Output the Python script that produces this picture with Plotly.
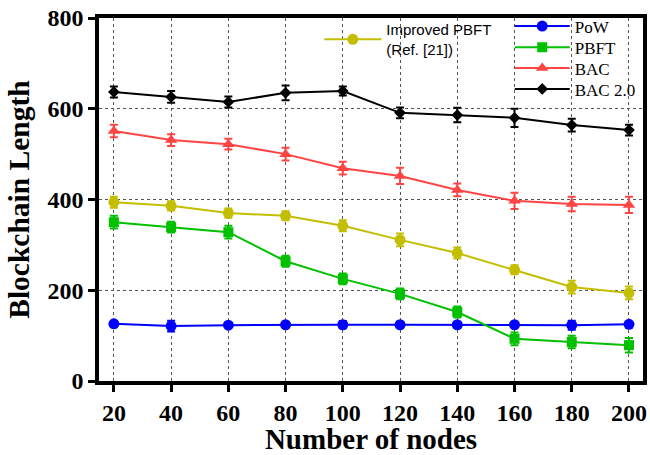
import plotly.graph_objects as go

nodes = [20, 40, 60, 80, 100, 120, 140, 160, 180, 200]

pow_vals = [126, 121, 123, 124, 124, 124, 124, 124, 123, 125]
pow_err = [4, 12, 4, 4, 8, 4, 4, 4, 10, 4]

pbft_vals = [350, 339, 328, 264, 225, 192, 152, 93, 86, 79]
pbft_err = [14, 12, 14, 12, 12, 12, 12, 14, 14, 16]

bac_vals = [551, 531, 522, 500, 469, 452, 421, 397, 390, 388]
bac_err = [14, 13, 12, 14, 14, 18, 14, 18, 16, 18]

bac2_vals = [637, 626, 615, 635, 639, 591, 586, 580, 564, 553]
bac2_err = [12, 13, 12, 16, 10, 12, 16, 20, 14, 12]

impr_vals = [394, 386, 370, 364, 342, 311, 282, 245, 207, 194]
impr_err = [12, 10, 10, 10, 12, 14, 12, 10, 14, 14]

x_ticks = [20, 40, 60, 80, 100, 120, 140, 160, 180, 200]
y_ticks = [0, 200, 400, 600, 800]

fig = go.Figure()

def add(name, y, err, color, symbol, size, legend):
    fig.add_trace(go.Scatter(
        x=nodes, y=y, name=name, mode="lines+markers",
        line=dict(color=color, width=2),
        marker=dict(color=color, symbol=symbol, size=size),
        error_y=dict(type="data", array=err, color=color, thickness=2, width=4),
        legend=legend, showlegend=True,
    ))

add("Improved PBFT<br>(Ref. [21])", impr_vals, impr_err, "#C4BE00", "circle", 11, "legend")
add("PoW", pow_vals, pow_err, "#0000FF", "circle", 11, "legend2")
add("PBFT", pbft_vals, pbft_err, "#00C000", "square", 10, "legend3")
add("BAC", bac_vals, bac_err, "#FF4444", "triangle-up", 11, "legend4")
add("BAC 2.0", bac2_vals, bac2_err, "#000000", "diamond", 9, "legend5")

serif = "Liberation Serif"

def small_legend(y):
    return dict(
        x=0.755, y=y, xanchor="left", yanchor="top",
        bgcolor="rgba(0,0,0,0)", itemwidth=55,
        font=dict(family=serif, size=17, color="black"),
        tracegroupgap=0, visible=True,
    )

fig.update_layout(
    width=650, height=455,
    margin=dict(l=99, r=7, t=18, b=74),
    plot_bgcolor="white", paper_bgcolor="white",
    font=dict(family=serif, color="black"),
    showlegend=True,
    legend=dict(
        x=0.405, y=1.013, xanchor="left", yanchor="top",
        bgcolor="rgba(0,0,0,0)", itemwidth=57,
        font=dict(family="Liberation Sans", size=15, color="black"),
        tracegroupgap=0, visible=True,
    ),
    legend2=small_legend(1.026),
    legend3=small_legend(0.968),
    legend4=small_legend(0.9105),
    legend5=small_legend(0.853),
    xaxis=dict(
        range=[14.8, 204.9], tickvals=x_ticks,
        showgrid=True, gridcolor="#555555", griddash="dot", gridwidth=1,
        showline=True, linecolor="black", linewidth=3.5, mirror=True,
        ticks="outside", ticklen=7, tickwidth=3, tickcolor="black",
        tickfont=dict(family=serif, size=24, weight="bold"),
        title=dict(text="Number of nodes", font=dict(family=serif, size=29, weight="bold"), standoff=3),
        zeroline=False, automargin=False,
    ),
    yaxis=dict(
        range=[0, 800], tickvals=y_ticks,
        showgrid=True, gridcolor="#555555", griddash="dot", gridwidth=1,
        showline=True, linecolor="black", linewidth=3.5, mirror=True,
        ticks="outside", ticklen=7, tickwidth=3, tickcolor="black",
        tickfont=dict(family=serif, size=24, weight="bold"),
        title=dict(text="Blockchain Length", font=dict(family=serif, size=29.5, weight="bold"), standoff=10),
        zeroline=False, automargin=False,
    ),
)

fig.write_html("out.html", config={"displayModeBar": False},
               post_script="document.body.style.margin='0';")
